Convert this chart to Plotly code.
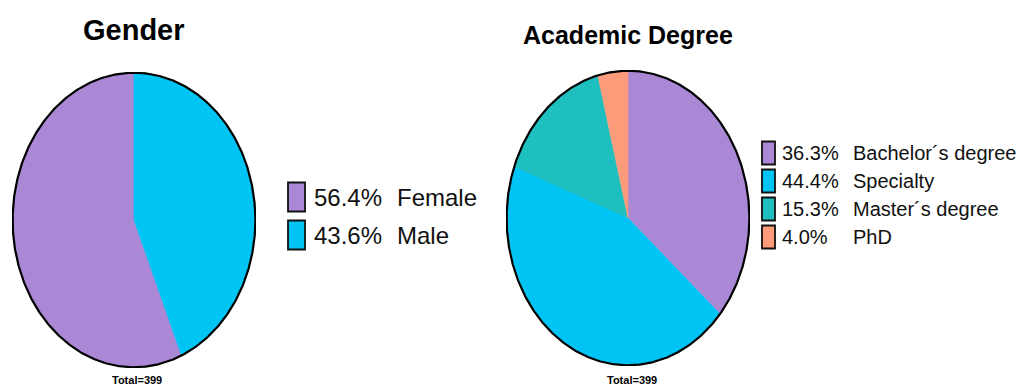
import numpy as np
import plotly.graph_objects as go

W, H = 1025, 387

# ---- data ----
gender_labels = ["Female", "Male"]
gender_pct = [56.4, 43.6]
gender_colors = ["#AA88D6", "#00C4F4"]

degree_labels = ["Bachelor\u00b4s degree", "Specialty", "Master\u00b4s degree", "PhD"]
degree_pct = [36.3, 44.4, 15.3, 4.0]
degree_colors = ["#AA88D6", "#00C4F4", "#1EC0BF", "#FD9B7A"]

titles = ["Gender", "Academic Degree"]
total_text = "Total=399"

FONT = "Liberation Sans, Arial, sans-serif"

fig = go.Figure()


def px(x):
    return x / W


def py(y):
    return 1 - y / H


def add_pie(values, colors, axis_idx, direction):
    xa = "x" if axis_idx == 1 else f"x{axis_idx}"
    ya = "y" if axis_idx == 1 else f"y{axis_idx}"
    total = sum(values)
    start = 0.0
    for v, c in zip(values, colors):
        span = 360.0 * v / total
        th = np.radians(np.linspace(start, start + span, max(int(span * 2), 4)))
        xs = np.concatenate([[0], direction * np.sin(th), [0]])
        ys = np.concatenate([[0], np.cos(th), [0]])
        fig.add_trace(go.Scatter(x=xs, y=ys, mode="lines", fill="toself",
                                 fillcolor=c, line=dict(color=c, width=0.6),
                                 hoverinfo="skip", showlegend=False,
                                 xaxis=xa, yaxis=ya))
        start += span
    th = np.radians(np.linspace(0, 360, 721))
    fig.add_trace(go.Scatter(x=np.sin(th), y=np.cos(th), mode="lines",
                             line=dict(color="black", width=2.2),
                             hoverinfo="skip", showlegend=False,
                             xaxis=xa, yaxis=ya))


# Left pie: Female counterclockwise from top
add_pie(gender_pct, gender_colors, 1, -1)
# Right pie: clockwise from top
add_pie(degree_pct, degree_colors, 2, 1)

axcommon = dict(range=[-1.005, 1.005], visible=False, fixedrange=True)
fig.update_layout(
    xaxis=dict(domain=[px(12), px(256)], anchor="y", **axcommon),
    yaxis=dict(domain=[py(368), py(72)], anchor="x", **axcommon),
    xaxis2=dict(domain=[px(506), px(750)], anchor="y2", **axcommon),
    yaxis2=dict(domain=[py(366), py(70)], anchor="x2", **axcommon),
)

annotations = []
shapes = []

# Titles
annotations.append(dict(text=f"<b>{titles[0]}</b>", x=px(134), y=py(30),
                        xref="paper", yref="paper", showarrow=False,
                        xanchor="center", yanchor="middle",
                        font=dict(family=FONT, size=29, color="black")))
annotations.append(dict(text=f"<b>{titles[1]}</b>", x=px(628), y=py(35),
                        xref="paper", yref="paper", showarrow=False,
                        xanchor="center", yanchor="middle",
                        font=dict(family=FONT, size=25, color="black")))
# Totals
for cx in (137, 632):
    annotations.append(dict(text=f"<b>{total_text}</b>", x=px(cx), y=py(380),
                            xref="paper", yref="paper", showarrow=False,
                            xanchor="center", yanchor="middle",
                            font=dict(family=FONT, size=11, color="black")))


def add_legend(labels, pct, colors, sq_x0, sq_w, sq_h, first_center, step,
               pct_x, name_x, fsize):
    for i, (lab, p, c) in enumerate(zip(labels, pct, colors)):
        cy = first_center + i * step
        shapes.append(dict(type="rect", xref="paper", yref="paper",
                           x0=px(sq_x0), x1=px(sq_x0 + sq_w),
                           y0=py(cy + sq_h / 2), y1=py(cy - sq_h / 2),
                           fillcolor=c, line=dict(color="#111111", width=1.8)))
        annotations.append(dict(text=f"{p:.1f}%", x=px(pct_x), y=py(cy),
                                xref="paper", yref="paper", showarrow=False,
                                xanchor="left", yanchor="middle",
                                font=dict(family=FONT, size=fsize, color="#111111")))
        annotations.append(dict(text=lab, x=px(name_x), y=py(cy),
                                xref="paper", yref="paper", showarrow=False,
                                xanchor="left", yanchor="middle",
                                font=dict(family=FONT, size=fsize, color="#111111")))


add_legend(gender_labels, gender_pct, gender_colors, 288, 17, 29, 197, 38,
           312, 395, 24)
add_legend(degree_labels, degree_pct, degree_colors, 762, 13, 23, 153, 28,
           780, 851, 20)

fig.update_layout(
    width=W, height=H,
    margin=dict(l=0, r=0, t=0, b=0),
    paper_bgcolor="white", plot_bgcolor="white",
    showlegend=False,
    annotations=annotations,
    shapes=shapes,
)

fig.write_html("out.html")
